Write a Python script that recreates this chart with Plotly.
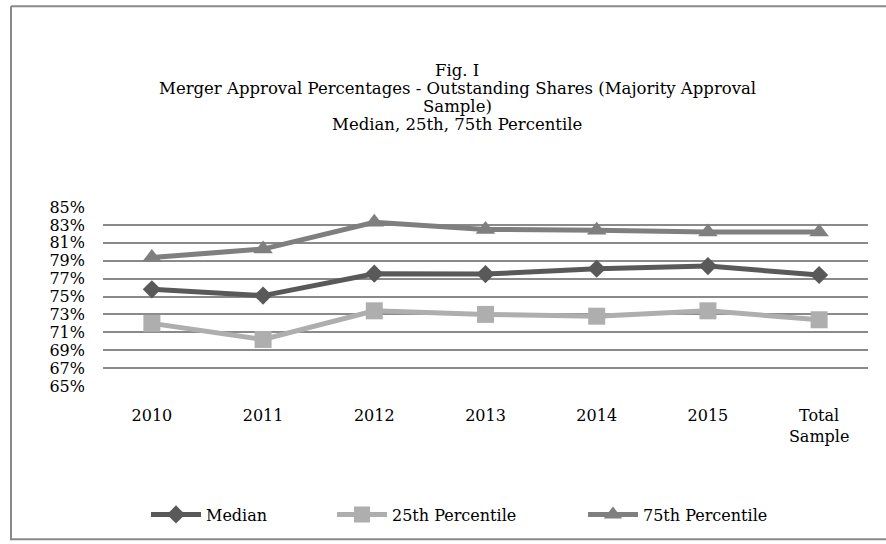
import plotly.graph_objects as go

categories = ["2010", "2011", "2012", "2013", "2014", "2015", "Total<br>Sample"]
median = [75.8, 75.1, 77.55, 77.5, 78.1, 78.4, 77.4]
p25 = [72.0, 70.2, 73.4, 73.0, 72.8, 73.4, 72.4]
p75 = [79.35, 80.3, 83.3, 82.5, 82.4, 82.2, 82.2]
title_lines = ["Fig. I",
               "Merger Approval Percentages - Outstanding Shares (Majority Approval",
               "Sample)",
               "Median, 25th, 75th Percentile"]

FONT = "DejaVu Serif"
L, R, T, B = 103, 18, 207, 156
PW, PH = 886 - L - R, 544 - T - B


def px(x):
    return (x - L) / PW


def py(y):
    return (544 - B - y) / PH


fig = go.Figure()
fig.add_trace(go.Scatter(x=categories, y=median, name="Median", mode="lines+markers",
                         legend="legend",
                         line=dict(color="#595959", width=5),
                         marker=dict(symbol="diamond", size=14, color="#595959")))
fig.add_trace(go.Scatter(x=categories, y=p25, name="25th Percentile", mode="lines+markers",
                         legend="legend2",
                         line=dict(color="#AEAEAE", width=5),
                         marker=dict(symbol="square", size=17, color="#AEAEAE")))
fig.add_trace(go.Scatter(x=categories, y=p75, name="75th Percentile", mode="lines+markers",
                         legend="legend3",
                         line=dict(color="#7F7F7F", width=5),
                         marker=dict(symbol="triangle-up", size=17, color="#7F7F7F")))

title_y = [69, 87, 105, 124]
annotations = [dict(text=t, xref="paper", yref="paper", x=px(457), y=py(yy),
                    xanchor="center", yanchor="middle", showarrow=False,
                    font=dict(family=FONT, size=16.5, color="black"))
               for t, yy in zip(title_lines, title_y)]

leg_common = dict(orientation="h", yanchor="middle", y=py(518),
                  xanchor="left", font=dict(family=FONT, size=16, color="black"),
                  itemwidth=50, bgcolor="rgba(0,0,0,0)")

frame = dict(color="#8A8A8A", width=2)
fig.update_layout(
    width=886, height=544,
    margin=dict(l=L, r=R, t=T, b=B),
    paper_bgcolor="white", plot_bgcolor="white",
    font=dict(family=FONT, size=15, color="black"),
    annotations=annotations,
    xaxis=dict(showgrid=False, showline=False, zeroline=False,
               ticks="outside", ticklen=15, tickcolor="rgba(0,0,0,0)",
               tickfont=dict(family=FONT, size=16, color="black")),
    yaxis=dict(range=[65, 85], dtick=2, tick0=65, ticksuffix="%",
               showgrid=True, gridcolor="#8A8A8A", gridwidth=1.5,
               zeroline=False, showline=False, ticklabelstandoff=17,
               tickfont=dict(family=FONT, size=16, color="black")),
    showlegend=True,
    legend=dict(x=px(146), **leg_common),
    legend2=dict(x=px(332), **leg_common),
    legend3=dict(x=px(583), **leg_common),
    shapes=[
        dict(type="line", xref="paper", yref="paper", x0=px(11), x1=px(11),
             y0=py(544), y1=py(4), line=frame),
        dict(type="line", xref="paper", yref="paper", x0=px(11), x1=px(886),
             y0=py(4), y1=py(4), line=frame),
        dict(type="line", xref="paper", yref="paper", x0=px(11), x1=px(886),
             y0=py(543), y1=py(543), line=frame),
    ],
)

fig.write_html("out.html", config={"displayModeBar": False},
               post_script="document.body.style.margin='0';document.body.style.padding='0';"
                           "document.body.style.overflow='hidden';"
                           "document.documentElement.style.overflow='hidden';")
